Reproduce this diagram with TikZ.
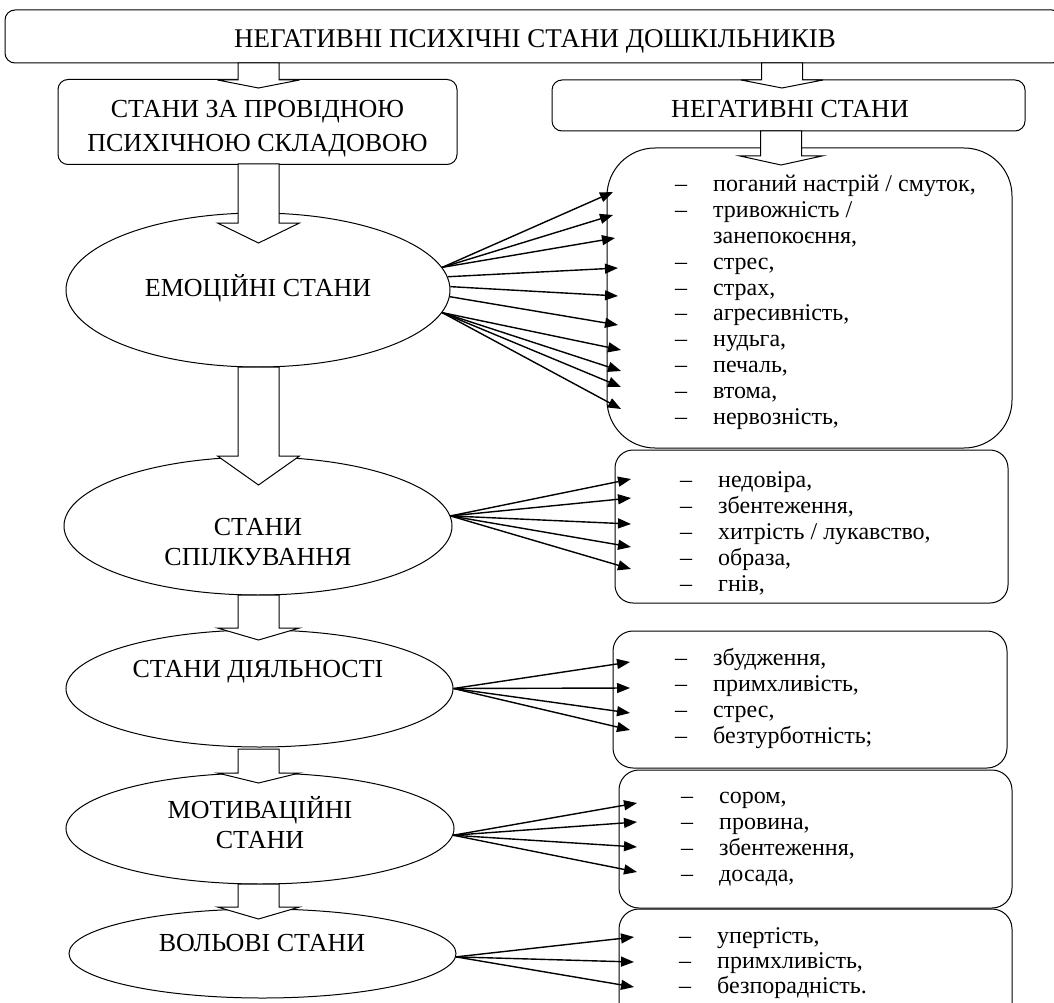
\documentclass[tikz,border=0pt]{standalone}
\usepackage{fontspec}
\setmainfont{Liberation Serif}
\usetikzlibrary{shapes.geometric,arrows.meta}

\newcommand{\li}[1]{\makebox[38pt][l]{–}#1}
% wide white arrow: x, top, head, tip
\newcommand{\blockarrow}[4]{%
  \draw[blk] (#1-20.5,#2) -- (#1-20.5,#3) -- (#1-41,#3) -- (#1,#4)
    -- (#1+41,#3) -- (#1+20.5,#3) -- (#1+20.5,#2) -- cycle;}

\begin{document}
\begin{tikzpicture}[x=1pt, y=-1pt,
  box/.style={draw, rounded corners=10pt, line width=1pt, inner sep=0pt},
  ell/.style={draw, ellipse, line width=1pt, inner sep=0pt},
  etext/.style={font=\fontsize{26}{30}\selectfont, align=center, anchor=base, inner sep=0pt},
  item/.style={font=\fontsize{24}{25.8}\selectfont, align=left, anchor=base west, inner sep=0pt},
  blk/.style={draw, fill=white, line width=1pt},
  arr/.style={-{Triangle[length=13pt,width=10pt]}, line width=1.4pt}]
  \useasboundingbox (0,0) rectangle (1054,1003);

  % headers
  \node[box, minimum width=1057pt, minimum height=53pt] (title) at (533.5,36.5) {};
  \node[box, minimum width=399pt, minimum height=85pt] (lead) at (257.5,122) {};
  \node[box, minimum width=473pt, minimum height=51pt] (neg) at (788.5,105.5) {};
  \node[etext, font=\fontsize{27}{30}\selectfont] (title-t) at (535,48) {НЕГАТИВНІ ПСИХІЧНІ СТАНИ ДОШКІЛЬНИКІВ};
  \node[etext, font=\fontsize{26}{34}\selectfont] (lead-t) at (257.5,152) {СТАНИ ЗА ПРОВІДНОЮ\\ПСИХІЧНОЮ СКЛАДОВОЮ};
  \node[etext] (neg-t) at (790,118) {НЕГАТИВНІ СТАНИ};

  % states
  \node[ell, minimum width=384pt, minimum height=154pt] (emo) at (258,290) {};
  \node[ell, minimum width=388pt, minimum height=138pt] (spil) at (258,526) {};
  \node[ell, minimum width=387pt, minimum height=117pt] (dial) at (259.5,688.5) {};
  \node[ell, minimum width=388pt, minimum height=111pt] (motiv) at (260,828.5) {};
  \node[ell, minimum width=387pt, minimum height=89pt] (vol) at (262.5,953.5) {};
  \node[etext] (emo-t) at (258,296) {ЕМОЦІЙНІ СТАНИ};
  \node[etext] (spil-t) at (258,565) {СТАНИ\\СПІЛКУВАННЯ};
  \node[etext] (dial-t) at (258,677) {СТАНИ ДІЯЛЬНОСТІ};
  \node[etext] (motiv-t) at (260,848) {МОТИВАЦІЙНІ\\СТАНИ};
  \node[etext] (vol-t) at (262,951) {ВОЛЬОВІ СТАНИ};

  % lists
  \node[box, rounded corners=48pt, minimum width=405pt, minimum height=300pt] (emolist) at (809.5,298) {};
  \node[box, rounded corners=18pt, minimum width=393pt, minimum height=153pt] (spillist) at (811.5,526.5) {};
  \node[box, rounded corners=20pt, minimum width=394pt, minimum height=137pt] (diallist) at (810,699.5) {};
  \node[box, rounded corners=20pt, minimum width=393pt, minimum height=138pt] (motivlist) at (815.5,839) {};
  \node[box, rounded corners=20pt, minimum width=393pt, minimum height=121pt] (vollist) at (815.5,969.5) {};

  \node[item] (emo-i) at (675,424) {\li{поганий настрій / смуток,}\\\li{тривожність /}\\\makebox[38pt]{}занепокоєння,\\\li{стрес,}\\\li{страх,}\\\li{агресивність,}\\\li{нудьга,}\\\li{печаль,}\\\li{втома,}\\\li{нервозність,}};
  \node[item] (spil-i) at (680,591) {\li{недовіра,}\\\li{збентеження,}\\\li{хитрість / лукавство,}\\\li{образа,}\\\li{гнів,}};
  \node[item] (dial-i) at (675,743) {\li{збудження,}\\\li{примхливість,}\\\li{стрес,}\\\li{безтурботність;}};
  \node[item] (motiv-i) at (681,881) {\li{сором,}\\\li{провина,}\\\li{збентеження,}\\\li{досада,}};
  \node[item, font=\fontsize{24}{25}\selectfont] (vol-i) at (679,993) {\li{упертість,}\\\li{примхливість,}\\\li{безпорадність.}};

  % wide arrows
  \blockarrow{258.5}{63}{80}{88}
  \blockarrow{782}{63}{80}{88}
  \blockarrow{781}{131}{156}{165}
  \blockarrow{258.5}{164}{223}{243}
  \blockarrow{258.5}{367}{456}{485}
  \blockarrow{258.5}{595}{628}{640}
  \blockarrow{258.5}{749}{773}{783}
  \blockarrow{258.5}{884}{907}{919}

  % thin arrows
  \foreach \a/\x/\y [count=\i] in {7/613/192, 7/613/215, 7/615/238, 4/618/268, 1/618/296,
      358/618/325, 353/621/350, 353/621/371, 353/621/387, 353/621/409} {
    \coordinate (et\i) at (\x,\y);
    \draw[arr] (emo.\a) -- (et\i);
  }
  \foreach \y [count=\i] in {479, 498, 524, 547, 569} {
    \coordinate (st\i) at (631,\y);
    \draw[arr] (spil.3) -- (st\i);
  }
  \foreach \y [count=\i] in {662, 688, 713, 730} {
    \coordinate (dt\i) at (630,\y);
    \draw[arr] (dial.east) -- (dt\i);
  }
  \foreach \y [count=\i] in {803, 822, 847, 872} {
    \coordinate (mt\i) at (637,\y);
    \draw[arr] (motiv.358) -- (mt\i);
  }
  \foreach \y [count=\i] in {937, 962, 987} {
    \coordinate (vt\i) at (634,\y);
    \draw[arr] (vol.359) -- (vt\i);
  }
\end{tikzpicture}
\end{document}
